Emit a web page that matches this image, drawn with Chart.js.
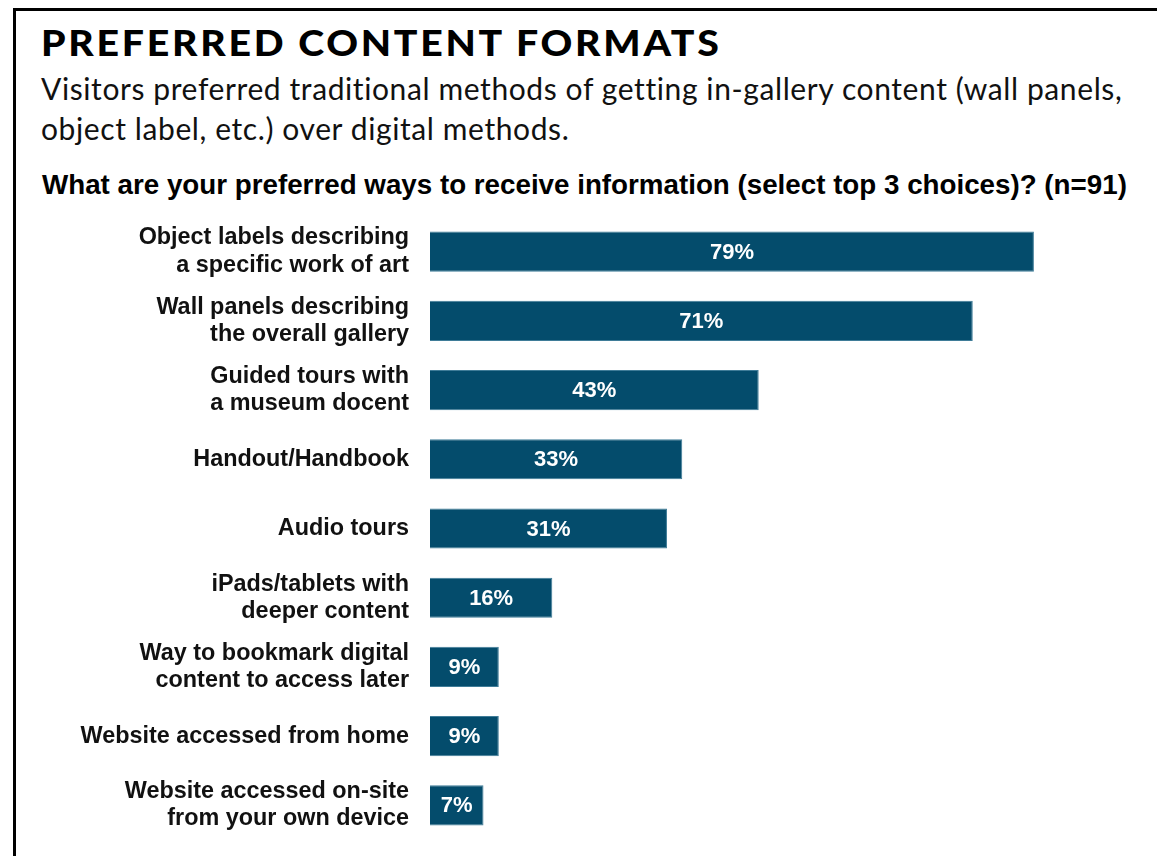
<!DOCTYPE html>
<html>
<head>
    <title>Preferred Content Formats</title>
    <style>
        body { margin: 0; background: #fff; width: 1157px; height: 856px; overflow: hidden; position: relative; }
        #frame { position: absolute; left: 13px; top: 8px; width: 1200px; height: 900px; border-left: 3px solid #000; border-top: 3px solid #000; }
        h1 { position: absolute; left: 41px; top: 20px; margin: 0; font-family: Lato, sans-serif; font-weight: 900; font-size: 36px; letter-spacing: 2.5px; color: #000; transform: scaleX(1.09); transform-origin: left center; white-space: nowrap; }
        .sub { position: absolute; left: 41px; top: 68px; margin: 0; font-family: Lato, sans-serif; font-size: 30px; letter-spacing: 0.6px; line-height: 40px; color: #111; }
        .question { position: absolute; left: 42px; top: 169px; margin: 0; font-family: "Liberation Sans", Arial, sans-serif; font-weight: bold; font-size: 27.75px; color: #000; white-space: nowrap; }
        #chartContainer { position: absolute; left: 0; top: 200px; width: 1157px; height: 656px; }
    </style>
    <script src="https://cdn.jsdelivr.net/npm/chart.js"></script>
</head>
<body>
    <div id="frame"></div>
    <h1>PREFERRED CONTENT FORMATS</h1>
    <p class="sub">Visitors preferred traditional methods of getting in-gallery content (wall panels,<br>object label, etc.) over digital methods.</p>
    <p class="question">What are your preferred ways to receive information (select top 3 choices)? (n=91)</p>
    <div id="chartContainer">
        <canvas id="formatChart"></canvas>
    </div>

    <script>
        const categories = [
            ['Object labels describing', 'a specific work of art'],
            ['Wall panels describing', 'the overall gallery'],
            ['Guided tours with', 'a museum docent'],
            'Handout/Handbook',
            'Audio tours',
            ['iPads/tablets with', 'deeper content'],
            ['Way to bookmark digital', 'content to access later'],
            'Website accessed from home',
            ['Website accessed on-site', 'from your own device']
        ];
        const shares = [79, 71, 43, 33, 31, 16, 9, 9, 7];

        // write the percentage in the middle of each bar
        const barLabels = {
            id: 'barLabels',
            afterDatasetsDraw(chart) {
                const ctx = chart.ctx;
                const meta = chart.getDatasetMeta(0);
                ctx.save();
                ctx.fillStyle = '#fff';
                ctx.font = 'bold 22px "Liberation Sans", Arial, sans-serif';
                ctx.textAlign = 'center';
                ctx.textBaseline = 'middle';
                meta.data.forEach((bar, i) => {
                    ctx.fillText(shares[i] + '%', (bar.x + bar.base) / 2, bar.y + 1);
                });
                ctx.restore();
            }
        };

        new Chart(document.getElementById('formatChart'), {
            type: 'bar',
            data: {
                labels: categories,
                datasets: [{
                    data: shares,
                    backgroundColor: '#044c6c',
                    borderColor: '#3f7c98',
                    borderWidth: 1,
                    barPercentage: 0.8,
                    categoryPercentage: 0.725
                }]
            },
            plugins: [barLabels],
            options: {
                indexAxis: 'y',
                responsive: true,
                maintainAspectRatio: false,
                animation: false,
                layout: { padding: { top: 17, bottom: 16, left: 0, right: 39 } },
                plugins: {
                    legend: { display: false },
                    tooltip: { enabled: false }
                },
                scales: {
                    x: {
                        display: false,
                        min: 0,
                        max: 90
                    },
                    y: {
                        grid: { display: false, drawTicks: false },
                        border: { display: false },
                        afterFit(scale) {
                            scale.width = 430;
                            scale.paddingTop = 0;
                            scale.paddingBottom = 0;
                        },
                        ticks: {
                            autoSkip: false,
                            padding: 21,
                            color: '#111',
                            font: { family: '"Liberation Sans", Arial, sans-serif', size: 23.4, weight: 'bold', lineHeight: 1.16 }
                        }
                    }
                }
            }
        });
    </script>
</body>
</html>
